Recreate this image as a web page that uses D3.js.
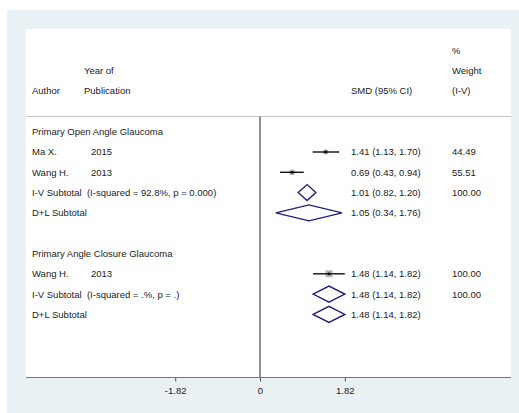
<!DOCTYPE html>
<html>
<head>
<meta charset="utf-8">
<script src="https://cdn.jsdelivr.net/npm/d3@7"></script>
<style>
  html, body { margin: 0; padding: 0; background: #ffffff; }
  svg { display: block; }
  text { font-family: "Liberation Sans", Arial, sans-serif; font-size: 9.5px; fill: #222; white-space: pre; }
</style>
</head>
<body>
<svg id="chart" width="519" height="413"></svg>
<script>
// Individual studies (standardized mean difference, 95% CI, inverse-variance weight)
const studyGroup   = ["POAG", "POAG", "PACG"];
const studyAuthors = ["Ma X.", "Wang H.", "Wang H."];
const studyYears   = ["2015", "2013", "2013"];
const studySMD     = [1.41, 0.69, 1.48];
const studyLower   = [1.13, 0.43, 1.14];
const studyUpper   = [1.70, 0.94, 1.82];
const studyWeight  = [44.49, 55.51, 100.00];

// Pooled estimates per subgroup
const poolLabels = [
  "I-V Subtotal  (I-squared = 92.8%, p = 0.000)",
  "D+L Subtotal",
  "I-V Subtotal  (I-squared = .%, p = .)",
  "D+L Subtotal"
];
const poolSMD    = [1.01, 1.05, 1.48, 1.48];
const poolLower  = [0.82, 0.34, 1.14, 1.14];
const poolUpper  = [1.20, 1.76, 1.82, 1.82];
const poolWeight = ["100.00", "", "100.00", ""];

const groupTitles = ["Primary Open Angle Glaucoma", "Primary Angle Closure Glaucoma"];
const axisTicks = [-1.82, 0, 1.82];
const axisTickLabels = ["-1.82", "0", "1.82"];

// Row layout: each entry is a line of the forest plot
const rows = [
  { type: "title", text: groupTitles[0] },
  { type: "study", i: 0 },
  { type: "study", i: 1 },
  { type: "pool", i: 0 },
  { type: "pool", i: 1 },
  { type: "blank" },
  { type: "title", text: groupTitles[1] },
  { type: "study", i: 2 },
  { type: "pool", i: 2 },
  { type: "pool", i: 3 }
];

const svg = d3.select("#chart");

// Panel geometry
const outer = { x: 7, y: 10, w: 512, h: 403 };
const panel = { x0: 26, y0: 29, x1: 511, y1: 377.5 };
const sepY = 116.5;
const firstRowY = 131.7, rowStep = 20.3;

svg.append("rect").attr("x", outer.x).attr("y", outer.y)
  .attr("width", outer.w).attr("height", outer.h).attr("fill", "#e9f1f4");
svg.append("rect").attr("x", panel.x0).attr("y", panel.y0)
  .attr("width", panel.x1 - panel.x0).attr("height", panel.y1 - panel.y0).attr("fill", "#ffffff");

const x = d3.scaleLinear().domain([-1.82, 1.82]).range([175.2, 344.8]);
const y = d3.scaleLinear().domain([0, 1]).range([firstRowY, firstRowY + rowStep]);

const colText = { author: 32, year: 91, yearHead: 84, est: 351, weight: 452 };

// Header
const headRows = [50.3, 70.6, 90.9];
const hdr = svg.append("g");
function htext(xp, yp, t) {
  hdr.append("text").attr("x", xp).attr("y", yp + 3.4).text(t);
}
htext(colText.weight, headRows[0], "%");
htext(colText.yearHead, headRows[1], "Year of");
htext(colText.weight, headRows[1], "Weight");
htext(colText.author, headRows[2], "Author");
htext(colText.yearHead, headRows[2], "Publication");
htext(colText.est, headRows[2], "SMD (95% CI)");
htext(colText.weight, headRows[2], "(I-V)");

// Separator under header
svg.append("line").attr("x1", panel.x0).attr("x2", panel.x1)
  .attr("y1", sepY).attr("y2", sepY).attr("stroke", "#c8c8c8").attr("stroke-width", 1);

// Null line
svg.append("line").attr("x1", x(0)).attr("x2", x(0))
  .attr("y1", sepY).attr("y2", panel.y1).attr("stroke", "#222").attr("stroke-width", 1);

const fmt = v => v.toFixed(2);
const ciText = (e, l, u) => `${fmt(e)} (${fmt(l)}, ${fmt(u)})`;
const boxScale = d3.scaleSqrt().domain([0, 100]).range([0, 7]);

const body = svg.append("g");
rows.forEach((r, k) => {
  const yy = y(k);
  if (r.type === "title") {
    body.append("text").attr("x", colText.author).attr("y", yy + 3.4).text(r.text);
  } else if (r.type === "study") {
    const i = r.i;
    body.append("text").attr("x", colText.author).attr("y", yy + 3.4).text(studyAuthors[i]);
    body.append("text").attr("x", colText.year).attr("y", yy + 3.4).text(studyYears[i]);
    body.append("text").attr("x", colText.est).attr("y", yy + 3.4)
      .text(ciText(studySMD[i], studyLower[i], studyUpper[i]));
    body.append("text").attr("x", colText.weight).attr("y", yy + 3.4).text(fmt(studyWeight[i]));
    const s = boxScale(studyWeight[i]);
    body.append("rect").attr("x", x(studySMD[i]) - s / 2).attr("y", yy - s / 2)
      .attr("width", s).attr("height", s).attr("fill", "#b4b4b4");
    body.append("line").attr("x1", x(studyLower[i])).attr("x2", x(studyUpper[i]))
      .attr("y1", yy).attr("y2", yy).attr("stroke", "#111").attr("stroke-width", 1.4);
    body.append("circle").attr("cx", x(studySMD[i])).attr("cy", yy).attr("r", 1.4).attr("fill", "#000");
  } else if (r.type === "pool") {
    const i = r.i;
    body.append("text").attr("x", colText.author).attr("y", yy + 3.4).text(poolLabels[i]);
    body.append("text").attr("x", colText.est).attr("y", yy + 3.4)
      .text(ciText(poolSMD[i], poolLower[i], poolUpper[i]));
    if (poolWeight[i]) body.append("text").attr("x", colText.weight).attr("y", yy + 3.4).text(poolWeight[i]);
    const hh = 8;
    const pts = [[x(poolLower[i]), yy], [x(poolSMD[i]), yy - hh], [x(poolUpper[i]), yy], [x(poolSMD[i]), yy + hh]];
    body.append("path").attr("d", d3.line()(pts) + "Z")
      .attr("fill", "none").attr("stroke", "#1f1f7a").attr("stroke-width", 1.4);
  }
});

// Axis
const axisG = svg.append("g").attr("transform", `translate(0,${panel.y1})`);
axisG.call(d3.axisBottom(x).tickValues(axisTicks).tickSize(4).tickPadding(6)
  .tickFormat((d, i) => axisTickLabels[i]));
axisG.select(".domain").remove();
axisG.selectAll(".tick line").attr("stroke", "#555");
axisG.selectAll(".tick text").attr("font-family", "Liberation Sans, Arial, sans-serif")
  .attr("font-size", "9.5px").style("fill", "#222");
axisG.append("line").attr("x1", panel.x0).attr("x2", panel.x1).attr("y1", 0).attr("y2", 0)
  .attr("stroke", "#777").attr("stroke-width", 1.2);
</script>
</body>
</html>
